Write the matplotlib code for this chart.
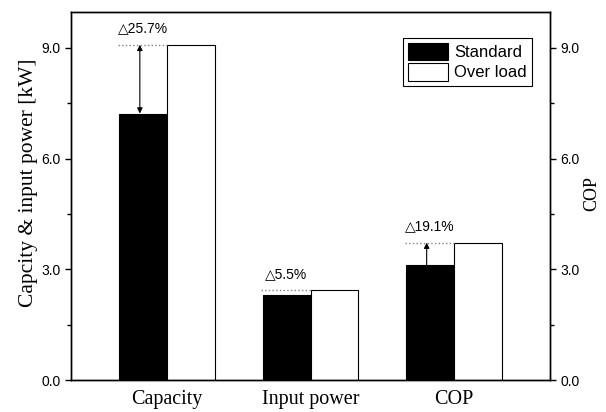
import matplotlib.pyplot as plt
import numpy as np

# performance of the unit at standard vs over-load condition
categories = ["Capacity", "Input power", "COP"]
standard = [7.22, 2.30, 3.12]
over_load = [9.08, 2.43, 3.72]
deltas = ["\u25b325.7%", "\u25b35.5%", "\u25b319.1%"]

serif = ["Liberation Serif", "DejaVu Serif"]
sans = ["Liberation Sans", "DejaVu Sans"]

fig = plt.figure(figsize=(6.06, 4.12), dpi=100)
ax = fig.add_axes([71 / 606, 32 / 412, 479 / 606, 368 / 412])

x = np.arange(len(categories))
w = 0.334
ax.bar(x - w / 2, standard, w, color="black", edgecolor="black", lw=0.8, label="Standard")
ax.bar(x + w / 2, over_load, w, color="white", edgecolor="black", lw=0.8, label="Over load")

ax.set_xlim(-0.67, 2.67)
ax.set_ylim(0, 9.97)
ax.set_xticks(x)
ax.set_xticklabels(categories, fontfamily=serif, fontsize=14.5)
ax.tick_params(axis="x", length=0, pad=7)
ax.set_yticks([0, 3, 6, 9])
ax.set_yticks([1.5, 4.5, 7.5], minor=True)
ax.set_yticklabels(["0.0", "3.0", "6.0", "9.0"], fontfamily=sans, fontsize=10)
ax.tick_params(axis="y", which="major", direction="out", length=4, width=1)
ax.tick_params(axis="y", which="minor", direction="out", length=3, width=1)
ax.set_ylabel("Capcity & input power [kW]", fontfamily=serif, fontsize=15.5)
ax.yaxis.set_label_coords(-0.069, 0.535)

# right axis on the same 0-10 scale for COP
ax2 = ax.twinx()
ax2.set_ylim(ax.get_ylim())
ax2.set_yticks([0, 3, 6, 9])
ax2.set_yticks([1.5, 4.5, 7.5], minor=True)
ax2.set_yticklabels(["0.0", "3.0", "6.0", "9.0"], fontfamily=sans, fontsize=10)
ax2.tick_params(axis="y", which="major", direction="out", length=4, width=1)
ax2.tick_params(axis="y", which="minor", direction="out", length=3, width=1)
ax2.set_ylabel("COP", fontfamily=serif, fontsize=13, rotation=90)
ax2.yaxis.set_label_coords(1.069, 0.507)

for a in (ax, ax2):
    for s in a.spines.values():
        s.set_linewidth(1.0)

# dotted reference level and percentage above each standard bar
for i in range(len(categories)):
    left = i - w - 0.01
    ax.plot([left, i], [over_load[i], over_load[i]], ls=":", color="gray", lw=1)
    ax.text(i - w / 2, over_load[i] + 0.25, deltas[i], ha="center", va="bottom",
            fontsize=10, family=sans)

ax.annotate("", xy=(-0.19, over_load[0]), xytext=(-0.19, standard[0]),
            arrowprops=dict(arrowstyle="<|-|>", color="black", lw=0.8,
                            mutation_scale=8, shrinkA=0, shrinkB=0))
ax.annotate("", xy=(2 - 0.19, over_load[2]), xytext=(2 - 0.19, standard[2]),
            arrowprops=dict(arrowstyle="-|>", color="black", lw=0.8,
                            mutation_scale=8, shrinkA=0, shrinkB=0))

leg = ax.legend(loc="upper right", bbox_to_anchor=(0.962, 0.93), fancybox=False,
                edgecolor="black", framealpha=1, prop={"family": sans, "size": 12},
                handlelength=2.4, handleheight=1.25, handletextpad=0.4,
                borderpad=0.3, labelspacing=0.15, borderaxespad=0)
leg.get_frame().set_linewidth(0.8)

fig.savefig("out.png", dpi=100)
